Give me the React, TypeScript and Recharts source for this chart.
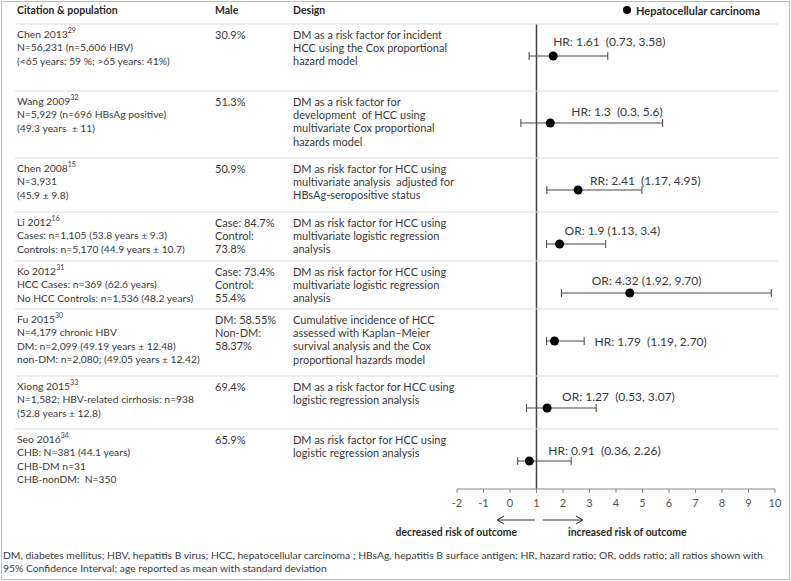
import React from "react";
import { ScatterChart, Scatter, XAxis, YAxis, ErrorBar, ReferenceLine } from "recharts";

// study rows
const studies = ["Chen 2013", "Wang 2009", "Chen 2008", "Li 2012", "Ko 2012", "Fu 2015", "Xiong 2015", "Seo 2016"];
const refs = ["29", "32", "15", "16", "31", "30", "33", "34"];
const populationLines = [
    ["N=56,231 (n=5,606 HBV)", "(<65 years: 59 %; >65 years: 41%)"],
    ["N=5,929 (n=696 HBsAg positive)", "(49.3 years  ± 11)"],
    ["N=3,931", "(45.9 ± 9.8)"],
    ["Cases: n=1,105 (53.8 years ± 9.3)", "Controls: n=5,170 (44.9 years ± 10.7)"],
    ["HCC Cases: n=369 (62.6 years)", "No HCC Controls: n=1,536 (48.2 years)"],
    ["N=4,179 chronic HBV", "DM: n=2,099 (49.19 years ± 12.48)", "non-DM: n=2,080; (49.05 years ± 12.42)"],
    ["N=1,582; HBV-related cirrhosis: n=938", "(52.8 years ± 12.8)"],
    ["CHB: N=381 (44.1 years)", "CHB-DM n=31", "CHB-nonDM:  N=350"],
];
const maleLines = [
    ["30.9%"],
    ["51.3%"],
    ["50.9%"],
    ["Case: 84.7%", "Control:", "73.8%"],
    ["Case: 73.4%", "Control:", "55.4%"],
    ["DM: 58.55%", "Non-DM:", "58.37%"],
    ["69.4%"],
    ["65.9%"],
];
const designLines = [
    ["DM as a risk factor for incident", "HCC using the Cox proportional", "hazard model"],
    ["DM as a risk factor for", "development  of HCC using", "multivariate Cox proportional", "hazards model"],
    ["DM as risk factor for HCC using", "multivariate analysis  adjusted for", "HBsAg-seropositive status"],
    ["DM as risk factor for HCC using", "multivariate logistic regression", "analysis"],
    ["DM as risk factor for HCC using", "multivariate logistic regression", "analysis"],
    ["Cumulative incidence of HCC", "assessed with Kaplan–Meier", "survival analysis and the Cox", "proportional hazards model"],
    ["DM as a risk factor for HCC using", "logistic regression analysis"],
    ["DM as risk factor for HCC using", "logistic regression analysis"],
];
const effectLabels = [
    "HR: 1.61  (0.73, 3.58)",
    "HR: 1.3  (0.3, 5.6)",
    "RR: 2.41  (1.17, 4.95)",
    "OR: 1.9 (1.13, 3.4)",
    "OR: 4.32 (1.92, 9.70)",
    "HR: 1.79  (1.19, 2.70)",
    "OR: 1.27  (0.53, 3.07)",
    "HR: 0.91  (0.36, 2.26)",
];
// plotted positions of dot and whiskers
const estimates = [1.63, 1.52, 2.57, 1.87, 4.52, 1.68, 1.4, 0.73];
const lowers = [0.72, 0.41, 1.39, 1.38, 1.94, 1.38, 0.62, 0.29];
const uppers = [3.69, 5.76, 4.98, 3.61, 9.86, 2.8, 3.25, 2.31];
const xTicks = [-2, -1, 0, 1, 2, 3, 4, 5, 6, 7, 8, 9, 10];

// layout
const W = 791;
const H = 581;
const FONT = "Lato, 'Open Sans', sans-serif";
const rowHeights = [67, 67, 54, 49, 48, 67, 53, 60];
const DOT_OFFSET = 32;
const LINE_H = 13.4;
const labelOffsets = [[0, -15], [21, -12], [12, -10], [5, -14], [-38, -13], [40, 0], [15, -12], [19, -11]];

const rowTops = rowHeights.map((_, i) => rowHeights.slice(0, i).reduce((a, b) => a + b, 0));
const totalRows = rowHeights.reduce((a, b) => a + b, 0);
const rowTicks = rowTops.map(t => t + DOT_OFFSET);

const data = studies.map((name, i) => ({
    name,
    x: estimates[i],
    y: rowTicks[i],
    err: [estimates[i] - lowers[i], uppers[i] - estimates[i]],
    label: effectLabels[i],
    dx: labelOffsets[i][0],
    dy: labelOffsets[i][1],
}));

const pre = { whiteSpace: "pre" as const };

const RowTick = (props: any) => {
    const { y, payload } = props;
    const i = rowTicks.indexOf(payload.value);
    if (i < 0) return null;
    const top = y - DOT_OFFSET;
    const first = top + 10;
    const txt = { fontFamily: FONT, fontSize: 11, fill: "#3a3a3a", dominantBaseline: "central" as const, style: pre };
    return (
        <g>
            <text x={17} y={first} {...txt} fontSize={10.4}>
                {studies[i]}
                <tspan dy={-4} fontSize={7}>{refs[i]}</tspan>
            </text>
            {populationLines[i].map((l, k) => (
                <text key={"p" + k} x={17} y={first + (k + 1) * LINE_H} {...txt} fontSize={10.3}>{l}</text>
            ))}
            {maleLines[i].map((l, k) => (
                <text key={"m" + k} x={215} y={first + k * LINE_H} {...txt}>{l}</text>
            ))}
            {designLines[i].map((l, k) => (
                <text key={"d" + k} x={293} y={first + k * LINE_H} {...txt}>{l}</text>
            ))}
            {i < studies.length - 1 && (
                <line x1={15} x2={778} y1={top + rowHeights[i]} y2={top + rowHeights[i]} stroke="#dcdcdc" />
            )}
        </g>
    );
};

const DotWithLabel = (props: any) => {
    const { cx, cy, payload } = props;
    return (
        <g>
            <circle cx={cx} cy={cy} r={4.5} fill="#000" />
            <text
                x={cx + payload.dx}
                y={cy + payload.dy}
                fontFamily={FONT}
                fontSize={12}
                fill="#3a3a3a"
                dominantBaseline="central"
                style={pre}
            >
                {payload.label}
            </text>
        </g>
    );
};

export default function App() {
    return (
        <div style={{ position: "absolute", left: 0, top: 0, width: W, height: H, background: "#fff" }}>
            <ScatterChart width={W} height={H} margin={{ top: 24, right: 16, bottom: 52, left: 0 }}>
                <XAxis
                    type="number"
                    dataKey="x"
                    domain={[-2, 10]}
                    ticks={xTicks}
                    interval={0}
                    stroke="#888"
                    tickSize={4}
                    tickMargin={6}
                    height={40}
                    tick={{ fontFamily: FONT, fontSize: 11, fill: "#555" }}
                />
                <YAxis
                    type="number"
                    dataKey="y"
                    domain={[0, totalRows]}
                    reversed
                    ticks={rowTicks}
                    interval={0}
                    width={457}
                    axisLine={false}
                    tickLine={false}
                    tick={<RowTick />}
                />
                <ReferenceLine x={1} stroke="#444" strokeWidth={1.5} />
                <Scatter data={data} shape={<DotWithLabel />} isAnimationActive={false}>
                    <ErrorBar dataKey="err" direction="x" width={4} stroke="#444" strokeWidth={1} />
                </Scatter>
            </ScatterChart>
            <svg width={W} height={H} style={{ position: "absolute", left: 0, top: 0, pointerEvents: "none" }}>
                <rect x={1.5} y={1.5} width={W - 3} height={H - 3} fill="none" stroke="#bdbdbd" />
                <g fontFamily={FONT} fontSize={10.5} fontWeight="bold" fill="#2a2a2a">
                    <text x={17} y={10} dominantBaseline="central">Citation &amp; population</text>
                    <text x={215} y={10} dominantBaseline="central">Male</text>
                    <text x={293} y={10} dominantBaseline="central">Design</text>
                </g>
                <g fontFamily={FONT} fontSize={11} fontWeight="bold" fill="#2a2a2a">
                    <circle cx={627} cy={10} r={4} fill="#000" />
                    <text x={636} y={10} dominantBaseline="central">Hepatocellular carcinoma</text>
                </g>
                <line x1={15} x2={778} y1={24} y2={24} stroke="#dcdcdc" />
                <g stroke="#333" strokeWidth={1} fill="none">
                    <line x1={535} x2={497} y1={520} y2={520} />
                    <polyline points="504,516 497,520 504,524" />
                    <line x1={543} x2={583} y1={520} y2={520} />
                    <polyline points="576,516 583,520 576,524" />
                </g>
                <g fontFamily={FONT} fontSize={10.4} fontWeight="bold" fill="#2a2a2a">
                    <text x={517} y={532} textAnchor="end" dominantBaseline="central">decreased risk of outcome</text>
                    <text x={568} y={532} dominantBaseline="central">increased risk of outcome</text>
                </g>
                <g fontFamily={FONT} fontSize={10.35} fill="#3a3a3a">
                    <text x={3} y={555} dominantBaseline="central">
                        DM, diabetes mellitus; HBV, hepatitis B virus; HCC, hepatocellular carcinoma ; HBsAg, hepatitis B surface antigen; HR, hazard ratio; OR, odds ratio; all ratios shown with
                    </text>
                    <text x={3} y={568} dominantBaseline="central">
                        95% Confidence Interval; age reported as mean with standard deviation
                    </text>
                </g>
            </svg>
        </div>
    );
}
